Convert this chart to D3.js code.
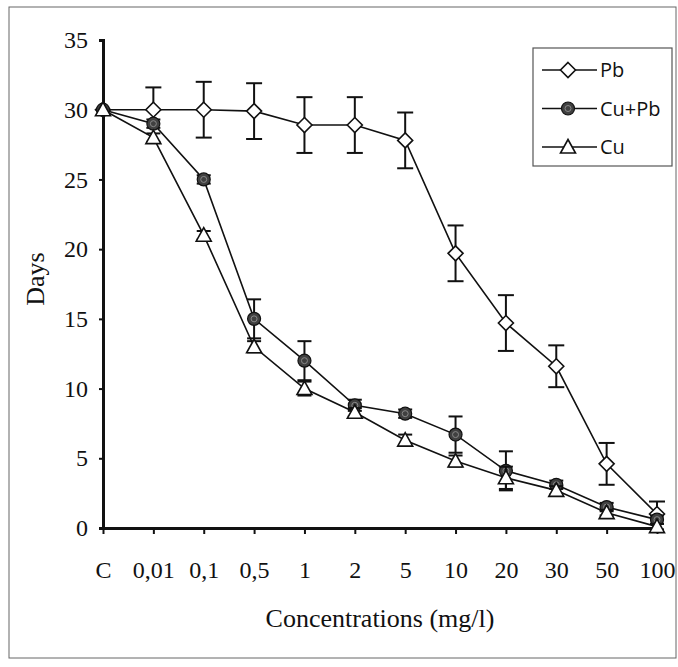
<!DOCTYPE html>
<html>
<head>
<meta charset="utf-8">
<script src="https://cdn.jsdelivr.net/npm/d3@7"></script>
<style>
  body { margin: 0; background: #fff; }
  .tick-label { font-family: "Liberation Serif", "DejaVu Serif", serif; font-size: 24px; fill: #111; }
  .axis-title { font-family: "Liberation Serif", "DejaVu Serif", serif; font-size: 26px; fill: #111; }
  .legend-text { font-family: "Open Sans", "Lato", sans-serif; font-size: 20px; fill: #111; }
</style>
</head>
<body>
<script>

// categories on the x axis
var concentrations = ["C", "0,01", "0,1", "0,5", "1", "2", "5", "10", "20", "30", "50", "100"];

// days for every series
var pbDays   = [30, 30, 30, 29.9, 28.9, 28.9, 27.8, 19.7, 14.7, 11.6, 4.6, 1.0];
var cuPbDays = [30, 29, 25, 15, 12, 8.8, 8.2, 6.7, 4.1, 3.1, 1.5, 0.6];
var cuDays   = [30, 28, 21, 13, 10, 8.3, 6.3, 4.8, 3.6, 2.7, 1.1, 0.1];

// error bars (upper and lower part)
var pbErrUp     = [0, 1.6, 2, 2, 2, 2, 2, 2, 2, 1.5, 1.5, 0.9];
var pbErrDown   = [0, 0, 2, 2, 2, 2, 2, 2, 2, 1.5, 1.5, 0];
var cuPbErrUp   = [0, 0.3, 0.3, 1.4, 1.4, 0.4, 0.3, 1.3, 1.4, 0.3, 0.3, 0.3];
var cuPbErrDown = [0, 0.3, 0.3, 1.4, 1.4, 0.4, 0.3, 1.3, 1.4, 0.3, 0.3, 0.3];
var cuErrUp     = [0, 0.3, 0.3, 0.4, 0.5, 0.3, 0.4, 0.4, 0.8, 0.3, 0.2, 0.2];
var cuErrDown   = [0, 0.3, 0.3, 0.4, 0.5, 0.3, 0.4, 0.4, 0.8, 0.3, 0.2, 0.2];

// y axis ticks
var dayTicks = [0, 5, 10, 15, 20, 25, 30, 35];

var w = 678;
var h = 667;

// link the series together
var series = [
  {name: "Pb", shape: "diamond", days: pbDays, up: pbErrUp, down: pbErrDown},
  {name: "Cu+Pb", shape: "circle", days: cuPbDays, up: cuPbErrUp, down: cuPbErrDown},
  {name: "Cu", shape: "triangle", days: cuDays, up: cuErrUp, down: cuErrDown}
];

var xScale = d3.scalePoint()
               .domain(concentrations)
               .range([103, 657]);

var yScale = d3.scaleLinear()
               .domain([0, 35])
               .range([528, 40]);

var svg = d3.select("body")
            .append("svg")
            .attr("width", w)
            .attr("height", h);

// scanned frame round the figure
svg.append("rect")
   .attr("x", 9)
   .attr("y", 7)
   .attr("width", 667)
   .attr("height", 651)
   .attr("fill", "none")
   .attr("stroke", "#666")
   .attr("stroke-width", 1);

// drawing y-axis
var yAxis = svg.append("g")
   .attr("transform", "translate(103,0)")
   .call(d3.axisLeft(yScale).tickValues(dayTicks).tickSize(4).tickPadding(11).tickFormat(d3.format("d")));

// drawing x-axis
var xAxis = svg.append("g")
   .attr("transform", "translate(0,528)")
   .call(d3.axisBottom(xScale).tickSize(6).tickPadding(27).tickSizeOuter(0));

[xAxis, yAxis].forEach(function(ax) {
  ax.select(".domain").attr("stroke", "#111").attr("stroke-width", 3);
  ax.selectAll(".tick line").attr("stroke", "#111").attr("stroke-width", 2);
  ax.selectAll(".tick text").attr("class", "tick-label").attr("fill", null);
  ax.attr("font-size", null).attr("font-family", null);
});

// axis titles
svg.append("text")
   .attr("class", "axis-title")
   .attr("x", 380)
   .attr("y", 627)
   .attr("text-anchor", "middle")
   .text("Concentrations (mg/l)");

svg.append("text")
   .attr("class", "axis-title")
   .attr("transform", "translate(44,279) rotate(-90)")
   .attr("text-anchor", "middle")
   .text("Days");

// marker drawing
function marker(g, shape) {
  if (shape == "diamond") {
    g.append("path")
     .attr("d", "M0,-7.5L7.5,0L0,7.5L-7.5,0Z")
     .attr("fill", "#fff").attr("stroke", "#111").attr("stroke-width", 1.6);
  } else if (shape == "circle") {
    g.append("circle")
     .attr("r", 6.5)
     .attr("fill", "#404040").attr("stroke", "#111").attr("stroke-width", 1.2);
    g.append("circle")
     .attr("r", 3)
     .attr("fill", "none").attr("stroke", "#888").attr("stroke-width", 1);
  } else {
    g.append("path")
     .attr("d", "M0,-7.5L7.5,6L-7.5,6Z")
     .attr("fill", "#fff").attr("stroke", "#111").attr("stroke-width", 1.6);
  }
}

var line = d3.line()
             .x(function(d, i) { return xScale(concentrations[i]); })
             .y(function(d) { return yScale(d); });

series.forEach(function(s) {
  var g = svg.append("g");

  // connecting line
  g.append("path")
   .attr("d", line(s.days))
   .attr("fill", "none")
   .attr("stroke", "#111")
   .attr("stroke-width", 1.6);

  // error bars
  s.days.forEach(function(d, i) {
    var x = xScale(concentrations[i]);
    var cap = s.shape == "diamond" ? 8 : 7;
    if (s.up[i] > 0) {
      g.append("line").attr("x1", x).attr("x2", x)
       .attr("y1", yScale(d)).attr("y2", yScale(d + s.up[i]))
       .attr("stroke", "#111").attr("stroke-width", 2);
      g.append("line").attr("x1", x - cap).attr("x2", x + cap)
       .attr("y1", yScale(d + s.up[i])).attr("y2", yScale(d + s.up[i]))
       .attr("stroke", "#111").attr("stroke-width", 2);
    }
    if (s.down[i] > 0) {
      g.append("line").attr("x1", x).attr("x2", x)
       .attr("y1", yScale(d)).attr("y2", yScale(d - s.down[i]))
       .attr("stroke", "#111").attr("stroke-width", 2);
      g.append("line").attr("x1", x - cap).attr("x2", x + cap)
       .attr("y1", yScale(d - s.down[i])).attr("y2", yScale(d - s.down[i]))
       .attr("stroke", "#111").attr("stroke-width", 2);
    }
  });

  // the markers on top
  s.days.forEach(function(d, i) {
    var m = g.append("g")
             .attr("transform", "translate(" + xScale(concentrations[i]) + "," + yScale(d) + ")");
    marker(m, s.shape);
  });
});

// legend box
var legend = svg.append("g");

legend.append("rect")
      .attr("x", 533)
      .attr("y", 48)
      .attr("width", 139)
      .attr("height", 118)
      .attr("fill", "#fff")
      .attr("stroke", "#555")
      .attr("stroke-width", 1.2);

series.forEach(function(s, i) {
  var y = 70 + i * 38.5;
  legend.append("line")
        .attr("x1", 542).attr("x2", 597)
        .attr("y1", y).attr("y2", y)
        .attr("stroke", "#111").attr("stroke-width", 1.6);
  var m = legend.append("g").attr("transform", "translate(568," + y + ")");
  marker(m, s.shape);
  legend.append("text")
        .attr("class", "legend-text")
        .attr("x", 600)
        .attr("y", y + 7)
        .text(s.name);
});

</script>
</body>
</html>
